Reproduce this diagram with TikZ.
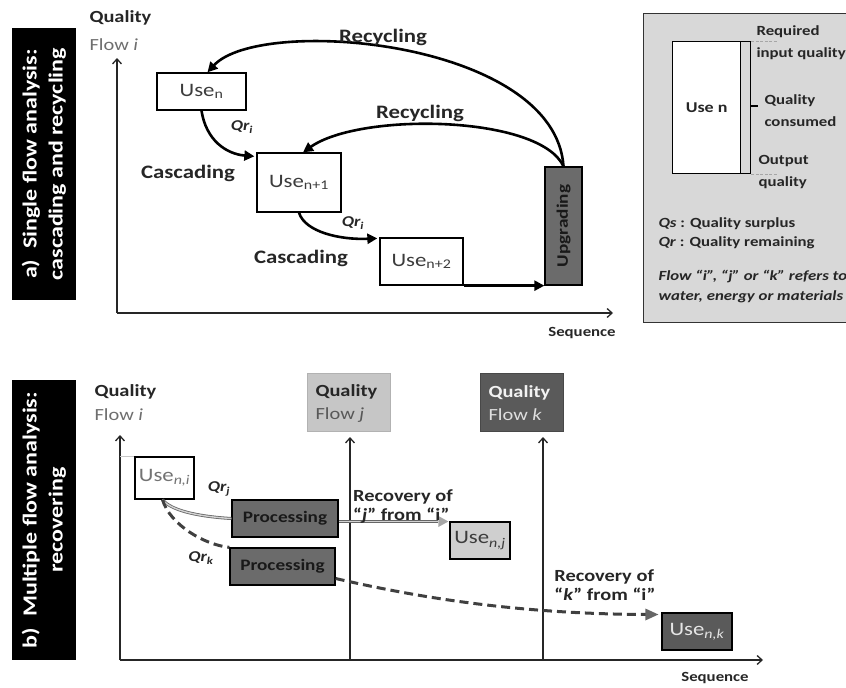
\documentclass[tikz,border=0pt]{standalone}
\usepackage{fontspec}
\setmainfont{Carlito}[FakeStretch=1.2]
\usetikzlibrary{arrows.meta}
\definecolor{txtgray}{HTML}{3C3C3C}
\definecolor{flowgray}{HTML}{6E6E6E}
\definecolor{darkfill}{HTML}{5A5A5A}
\definecolor{procfill}{HTML}{6B6B6B}
\definecolor{lightfill}{HTML}{C6C6C6}
\definecolor{legendbg}{HTML}{D8D8D8}
\definecolor{dashcol}{HTML}{404040}
\begin{document}
\begin{tikzpicture}[x=1pt,y=-1pt,
  sidebar/.style={fill=black, text=white, rotate=90, align=center, inner sep=0pt,
    font=\fontsize{20}{26}\selectfont\bfseries},
  usebox/.style={draw=black, line width=1.3pt, fill=white, inner sep=0pt, text=txtgray,
    font=\fontsize{19}{22}\selectfont},
  procbox/.style={draw=black, line width=1.3pt, fill=procfill, inner sep=0pt, text=black!90,
    font=\fontsize{16}{19}\selectfont\bfseries},
  lbl/.style={text=black!85, font=\fontsize{19}{22}\selectfont\bfseries},
  rlbl/.style={text=black!85, align=left, font=\fontsize{17}{19}\selectfont\bfseries},
  qr/.style={text=black!85, font=\fontsize{15}{17}\selectfont\bfseries\itshape},
  hdr/.style={anchor=west, text=black!85, font=\fontsize{17}{20}\selectfont\bfseries},
  hdrflow/.style={anchor=west, text=flowgray, font=\fontsize{17}{20}\selectfont},
  seq/.style={text=black!85, font=\fontsize{14}{16}\selectfont\bfseries},
  leg/.style={anchor=west, text=black!85, font=\fontsize{14}{16}\selectfont\bfseries},
  axis/.style={line width=1.5pt, black!85, -{Straight Barb[length=5pt,width=9pt,line width=1.3pt]}},
  flow/.style={line width=2.6pt, black, -{Triangle[length=10pt,width=10pt]}},
  grayflow/.style={draw=gray!80!black, double=gray!35, double distance=1.4pt, line width=0.8pt},
  dashflow/.style={line width=3pt, dashcol, dash pattern=on 9pt off 5pt},
]
\useasboundingbox (0,0) rectangle (846,688);

% ================= panel a =================
\node[sidebar, minimum width=272, minimum height=64] (sa) at (44,164)
  {a)\ \ Single flow analysis:\\cascading and recycling};
\node[hdr] (qa) at (86,18) {Quality};
\node[hdrflow] (fa) at (86,45) {Flow \textit{i}};
\coordinate (oa) at (117,313);
\coordinate (ya) at (117,58);
\coordinate (xa) at (613,313);
\draw[axis] (oa) -- (ya);
\draw[axis] (oa) -- (xa);
\node[seq] (sqa) at (582,333) {Sequence};

\node[usebox, minimum width=89, minimum height=37] (un) at (201.5,91.5) {Use\textsubscript{n}};
\node[usebox, minimum width=84, minimum height=59] (u1) at (299,182.5) {Use\textsubscript{n+1}};
\node[usebox, minimum width=83, minimum height=47] (u2) at (421.5,261.5) {Use\textsubscript{n+2}};
\node[draw=black, line width=1.3pt, fill=procfill, rotate=90, inner sep=0pt,
  minimum width=118, minimum height=37, text=black!90,
  font=\fontsize{16}{19}\selectfont\bfseries] (upg) at (563.5,226) {Upgrading};

\draw[flow] (un.south) .. controls (206,140) and (226,154) .. ([shift={(-2,4)}]u1.north west);
\draw[flow] (u1.south) .. controls (305,232) and (340,240) .. ([shift={(-2,1)}]u2.north west);
\draw[flow] (u2.south east) -- (u2.south east -| upg.north);
\draw[flow] (upg.east) .. controls (540,115) and (360,112) .. ([xshift=4]u1.north);
\draw[flow] (upg.east) .. controls (555,40) and (260,15) .. ([xshift=6]un.north);

\node[qr] (qr1) at (242,127) {Qr\textsubscript{i}};
\node[qr] (qr2) at (353,223) {Qr\textsubscript{i}};
\node[lbl] (c1) at (188,173) {Cascading};
\node[lbl] (c2) at (301,258) {Cascading};
\node[lbl] (r1) at (383,37) {Recycling};
\node[lbl] (r2) at (420,113) {Recycling};

% ================= legend =================
\node[draw=black!80, line width=1.3pt, fill=legendbg, anchor=north west, inner sep=0pt,
  minimum width=210, minimum height=309] (legbox) at (643,13) {};
\node[draw=black, line width=1.3pt, fill=legendbg, anchor=north west, inner sep=0pt,
  minimum width=78, minimum height=132] (strip) at (672,41) {};
\node[draw=black, line width=1.3pt, fill=white, anchor=north west, inner sep=0pt,
  minimum width=68, minimum height=132, font=\fontsize{15}{18}\selectfont\bfseries,
  text=black!85] (usenleg) at (672,41) {Use n};
\draw[line width=1.2pt] (strip.east |- 0,106) -- ++(7,0) coordinate (tick);
\draw[gray!70, line width=1pt, dash pattern=on 3pt off 1.5pt] (strip.north east) -- ++(26,0) coordinate (dq1);
\draw[gray!70, line width=1pt, dash pattern=on 3pt off 1.5pt] (strip.south east) -- ++(26,0) coordinate (dq2);
\node[leg] (l1) at (753,32) {Required};
\node[leg] (l2) at (753,54) {input quality};
\node[leg] (l3) at (761,101) {Quality};
\node[leg] (l4) at (761,122) {consumed};
\node[leg] (l5) at (755,161) {Output};
\node[leg] (l6) at (755,183) {quality};
\node[leg] (l7) at (655,224) {\textit{Qs} : Quality surplus};
\node[leg] (l8) at (655,243) {\textit{Qr} : Quality remaining};
\node[leg, font=\fontsize{14}{16}\selectfont\bfseries\itshape] (l9) at (655,277) {Flow “i”, “j” or “k” refers to};
\node[leg, font=\fontsize{14}{16}\selectfont\bfseries\itshape] (l10) at (655,297) {water, energy or materials};

% ================= panel b =================
\node[sidebar, minimum width=280, minimum height=64] (sb) at (44,520)
  {b)\ \ Multiple flow analysis:\\recovering};
\node[hdr] (qb) at (91,392) {Quality};
\node[hdrflow] (fb) at (91,415) {Flow \textit{i}};

\node[fill=lightfill, draw=lightfill!90!black, minimum width=83, minimum height=58, inner sep=0pt] (fj) at (348.5,402) {};
\node[anchor=west, align=left, font=\fontsize{17}{23}\selectfont] (fjt) at (312,403)
  {\textbf{\textcolor{black!85}{Quality}}\\\textcolor{flowgray!80!black}{Flow \textit{j}}};
\node[fill=darkfill, draw=darkfill!80!black, minimum width=83, minimum height=58, inner sep=0pt] (fk) at (521.5,402) {};
\node[anchor=west, align=left, font=\fontsize{17}{23}\selectfont] (fkt) at (485,403)
  {\textbf{\textcolor{white!95!black}{Quality}}\\\textcolor{gray!25}{Flow \textit{k}}};

\coordinate (ob) at (120,660);
\coordinate (yb) at (120,435);
\coordinate (xb) at (763,660);
\coordinate (jb) at (350,660);
\coordinate (kb) at (543,660);
\draw[axis] (ob) -- (yb);
\draw[axis] (ob) -- (xb);
\draw[axis] (jb) -- (350,437);
\draw[axis] (kb) -- (543,437);
\node[seq] (sqb) at (715,678) {Sequence};

\node[usebox, minimum width=59, minimum height=42, text=gray!90!black] (ui) at (164.5,478) {Use\textsubscript{\textit{n,i}}};
\draw[gray!45, line width=0.8pt] (yb |- ui.north) -- (ui.north west);
\node[procbox, minimum width=106, minimum height=37] (p1) at (285,518.5) {Processing};
\node[procbox, minimum width=105, minimum height=37] (p2) at (282.5,566.5) {Processing};
\node[usebox, fill=lightfill!85!white, minimum width=60, minimum height=37] (uj) at (480,540.5) {Use\textsubscript{\textit{n,j}}};
\node[usebox, fill=darkfill, text=white!90!black, minimum width=70, minimum height=37] (uk) at (697,631.5) {Use\textsubscript{\textit{n,k}}};

\coordinate (gs) at ([shift={(0,3)}]p1.east);
\coordinate (ge) at ([xshift=-11]gs -| uj.west);
\draw[grayflow] ([xshift=-2]ui.south) .. controls (172,512) and (205,517) .. (p1.west);
\draw[grayflow] (gs) -- (ge);
\fill[gray!70] (ge) -- ++(0,-5.5) -- ([xshift=-1]gs -| uj.west) -- ([shift={(-11,5.5)}]gs -| uj.west) -- cycle;
\draw[dashflow] ([xshift=-2]ui.south) .. controls (170,525) and (205,545) .. (p2.north west);
\draw[dashflow] ([shift={(0,12)}]p2.east) .. controls (420,598) and (520,614) .. ([shift={(-14,-17)}]uk.west) coordinate (dk);
\fill[dashcol!80] (dk) ++(-2,-6) -- ++(13,6) -- ++(-13,6) -- cycle;

\node[qr] (qrj) at (219,489) {Qr\textsubscript{j}};
\node[qr] (qrk) at (201,558) {Qr\textsubscript{k}};
\node[rlbl] (rj) at (403,507) {Recovery of\\“\textit{j}” from “i”};
\node[rlbl] (rk) at (605,585) {Recovery of\\“\textit{k}” from “i”};
\end{tikzpicture}
\end{document}
